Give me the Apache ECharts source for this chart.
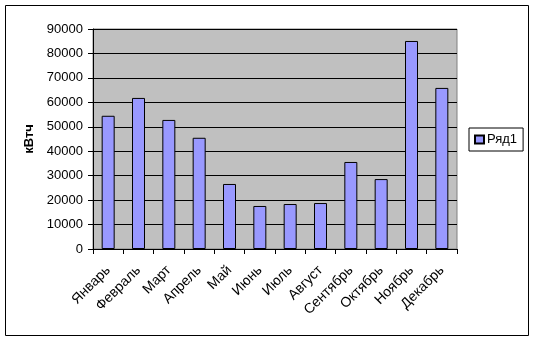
<!DOCTYPE html>
<html>
<head>
<meta charset="utf-8">
<script src="https://cdn.jsdelivr.net/npm/echarts@6/dist/echarts.min.js"></script>
<style>
html,body{margin:0;padding:0;background:#fff;}
#chart{width:534px;height:341px;}
</style>
</head>
<body>
<div id="chart"></div>
<script>
var categories = ['Январь','Февраль','Март','Апрель','Май','Июнь','Июль','Август','Сентябрь','Октябрь','Ноябрь','Декабрь'];
var seriesName = 'Ряд1';
var values = [54500, 61800, 52800, 45500, 26600, 17600, 18400, 18800, 35600, 28600, 85100, 65900];
var yAxisTitle = 'кВтч';
var yMin = 0, yMax = 90000, yStep = 10000;

var font = 'Arial, "Liberation Sans", sans-serif';
var chart = echarts.init(document.getElementById('chart'));
chart.setOption({
  animation: false,
  backgroundColor: '#fff',
  textStyle: {fontFamily: font},
  graphic: [{
    type: 'rect', shape: {x: 5.5, y: 5.5, width: 523, height: 330},
    style: {fill: 'none', stroke: '#000', lineWidth: 1}, z: 100
  }],
  grid: {
    left: 93, top: 29, right: 77, bottom: 92,
    show: true, backgroundColor: '#C0C0C0', borderColor: '#808080', borderWidth: 1
  },
  legend: {
    data: [seriesName], orient: 'vertical', left: 469, top: 128,
    padding: [5, 6, 5, 5], borderColor: '#000', borderWidth: 1, backgroundColor: '#fff',
    icon: 'rect', itemWidth: 9, itemHeight: 8, itemGap: 4,
    textStyle: {fontFamily: font, fontSize: 13, color: '#000', padding: [0, 0, 0, -2]}
  },
  xAxis: {
    type: 'category', data: categories, boundaryGap: true,
    axisLine: {lineStyle: {color: '#000', width: 1}},
    axisTick: {show: true, alignWithLabel: false, length: 5, lineStyle: {color: '#000'}},
    axisLabel: {rotate: 45, interval: 0, margin: 19, fontSize: 14, color: '#000', fontFamily: font},
    splitLine: {show: false}
  },
  yAxis: {
    type: 'value', min: yMin, max: yMax, interval: yStep,
    name: yAxisTitle, nameLocation: 'middle', nameRotate: 90, nameGap: 55,
    nameTextStyle: {fontFamily: font, fontSize: 13, fontWeight: 'bold', color: '#000'},
    axisLine: {show: true, lineStyle: {color: '#000', width: 1}},
    axisTick: {show: true, length: 5, lineStyle: {color: '#000'}},
    axisLabel: {margin: 10, fontSize: 13, color: '#000', fontFamily: font,
      formatter: function (v) { return String(v); }},
    splitLine: {show: true, lineStyle: {color: '#000', width: 1}}
  },
  series: [{
    name: seriesName, type: 'bar', data: values, barWidth: 13,
    itemStyle: {color: '#9999FF', borderColor: '#000', borderWidth: 1}
  }]
});
</script>
</body>
</html>
